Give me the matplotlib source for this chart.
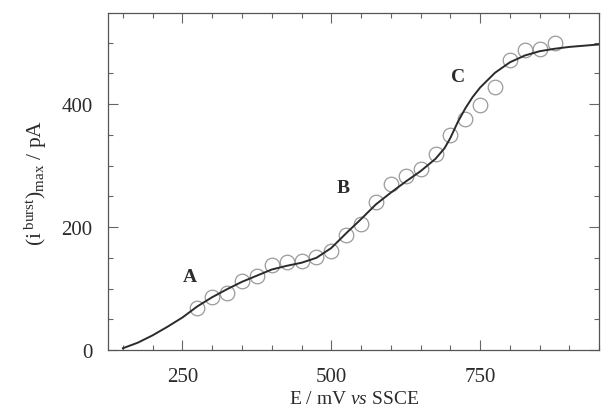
import numpy as np
import matplotlib
matplotlib.use("Agg")
import matplotlib.pyplot as plt
from matplotlib.ticker import MultipleLocator

plt.rcParams['font.family'] = ['Liberation Serif', 'DejaVu Serif']
plt.rcParams['mathtext.fontset'] = 'custom'
plt.rcParams['mathtext.rm'] = 'Liberation Serif'
plt.rcParams['mathtext.it'] = 'Liberation Serif:italic'

# measured burst maxima
E_pts = [275, 300, 325, 350, 375, 400, 425, 450, 475, 500, 525, 550, 575,
         600, 625, 650, 675, 700, 725, 750, 775, 800, 825, 850, 875]
i_pts = [68, 86, 92, 113, 121, 138, 143, 145, 151, 161, 187, 205, 241,
         270, 283, 294, 319, 349, 376, 398, 428, 472, 488, 489, 499]

# fitted curve
E_fit = [150, 175, 200, 225, 250, 275, 300, 325, 350, 375, 400, 425, 450,
         475, 500, 525, 550, 575, 600, 625, 650, 675, 690, 700, 712, 725,
         737, 750, 775, 800, 825, 850, 875, 900, 950]
i_fit = [3, 12, 24, 38, 53, 71, 86, 99, 111, 121, 131, 137, 142,
         150, 166, 190, 213, 237, 256, 274, 291, 311, 328, 345, 370, 393,
         411, 427, 451, 468, 479, 486, 490, 493, 497]

# region labels
labels = ['A', 'B', 'C']
label_E = [262, 520, 713]
label_i = [120, 264, 445]

ink = '#2b2b2b'
fig = plt.figure(figsize=(6.01, 4.14), dpi=100)
ax = fig.add_axes([0.1797, 0.152, 0.8174, 0.814])

ax.plot(E_pts, i_pts, 'o', ms=10.5, mfc='none', mec='#9a9a9a', mew=0.9, zorder=2)
ax.plot(E_fit, i_fit, '-', color=ink, lw=1.4, zorder=3)

for t, x, y in zip(labels, label_E, label_i):
    ax.text(x, y, t, fontsize=14, fontweight='bold', color=ink, ha='center', va='center')

ax.set_xlim(125, 950)
ax.set_ylim(0, 548)
ax.xaxis.set_major_locator(MultipleLocator(250))
ax.xaxis.set_minor_locator(MultipleLocator(50))
ax.yaxis.set_major_locator(MultipleLocator(200))
ax.yaxis.set_minor_locator(MultipleLocator(50))
ax.tick_params(which='both', direction='in', top=True, right=True, colors='#666666',
               labelcolor=ink, labelsize=15, width=0.8)
ax.tick_params(which='major', length=7)
ax.tick_params(which='minor', length=3.5)
ax.tick_params(axis='x', pad=12)
ax.tick_params(axis='y', pad=11)
for s in ax.spines.values():
    s.set_color('#555555')
    s.set_linewidth(0.9)

ax.set_xlabel(r'E / mV $\mathit{vs}$ SSCE', fontsize=14, color=ink, labelpad=3)
ax.set_ylabel(r'$(\mathrm{i}^{\ \mathrm{burst}})_{\mathrm{max}}$ / pA', fontsize=15.5,
              color=ink, labelpad=9)

fig.savefig('out.png', dpi=100)
